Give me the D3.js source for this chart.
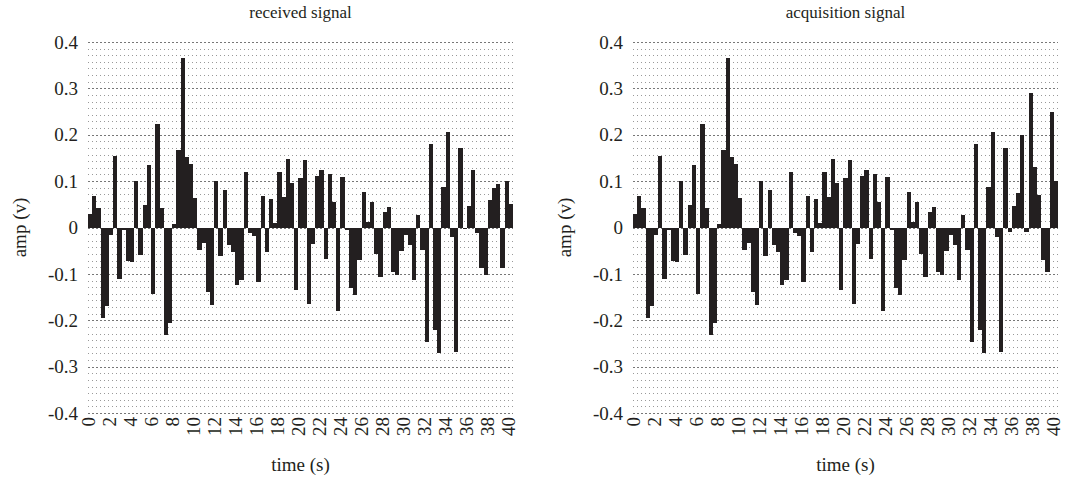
<!DOCTYPE html>
<html>
<head>
<meta charset="utf-8">
<script src="https://cdn.jsdelivr.net/npm/d3@7/dist/d3.min.js"></script>
<style>
  body { margin: 0; background: #fff; }
  svg text { font-family: "Liberation Serif", "DejaVu Serif", serif; fill: #231f20; }
</style>
</head>
<body>
<div id="chart"></div>
<script>
// sample step of the signal (s), 101 samples from 0 to 40
var step = 0.4;
var times = d3.range(101).map(function (i) { return +(i * step).toFixed(1); });

var received = [
  0.029, 0.069, 0.042, -0.195, -0.170, -0.016, 0.155, -0.110, -0.006, -0.073,
  -0.075, 0.100, -0.059, 0.049, 0.135, -0.143, 0.224, 0.043, -0.232, -0.205,
  0.007, 0.167, 0.366, 0.153, 0.138, 0.063, -0.049, -0.034, -0.139, -0.168,
  0.100, -0.062, 0.080, -0.037, -0.053, -0.123, -0.113, 0.120, -0.012, -0.019,
  -0.118, 0.067, -0.052, 0.062, 0.009, 0.120, 0.065, 0.148, 0.097, -0.135,
  0.106, 0.146, -0.165, -0.036, 0.110, 0.125, -0.068, 0.115, 0.054, -0.179,
  0.108, -0.006, -0.130, -0.145, -0.070, 0.077, 0.011, 0.056, -0.057, -0.106,
  0.034, 0.045, -0.096, -0.102, -0.050, -0.017, -0.037, -0.113, 0.026, -0.049,
  -0.247, 0.181, -0.222, -0.271, 0.087, 0.206, -0.020, -0.268, 0.172, -0.003,
  0.047, 0.123, -0.012, -0.087, -0.102, 0.060, 0.086, 0.093, -0.087, 0.100,
  0.051
];

var acquisition = [
  0.029, 0.069, 0.042, -0.195, -0.170, -0.016, 0.155, -0.110, -0.006, -0.073,
  -0.075, 0.100, -0.059, 0.049, 0.135, -0.143, 0.224, 0.043, -0.232, -0.205,
  0.007, 0.167, 0.366, 0.153, 0.138, 0.063, -0.049, -0.034, -0.139, -0.168,
  0.100, -0.062, 0.080, -0.037, -0.053, -0.123, -0.113, 0.120, -0.012, -0.019,
  -0.118, 0.067, -0.052, 0.062, 0.009, 0.120, 0.065, 0.148, 0.097, -0.135,
  0.106, 0.146, -0.165, -0.036, 0.110, 0.125, -0.068, 0.115, 0.054, -0.179,
  0.108, -0.006, -0.130, -0.145, -0.070, 0.077, 0.011, 0.056, -0.057, -0.106,
  0.034, 0.045, -0.096, -0.102, -0.050, -0.017, -0.037, -0.113, 0.026, -0.049,
  -0.247, 0.181, -0.222, -0.271, 0.087, 0.206, -0.020, -0.268, 0.172, -0.010,
  0.047, 0.075, 0.200, -0.010, 0.290, 0.130, 0.070, -0.070, -0.095, 0.250,
  0.100
];

var yTicks = [0.4, 0.3, 0.2, 0.1, 0, -0.1, -0.2, -0.3, -0.4];
var xTicks = d3.range(0, 41, 2);

var panels = [
  { title: "received signal", values: received, left: 88 },
  { title: "acquisition signal", values: acquisition, left: 633 }
];

var W = 1067, H = 481;
var plotW = 425, plotTop = 42, plotBottom = 413;

var svg = d3.select("#chart").append("svg")
    .attr("width", W)
    .attr("height", H);

panels.forEach(function (p) {
    var x = d3.scaleLinear().domain([0, 40 + step]).range([p.left, p.left + plotW]);
    var y = d3.scaleLinear().domain([-0.4, 0.4]).range([plotBottom, plotTop]);
    var g = svg.append("g");

    // dotted grid, 7 lines per 0.1
    var grid = d3.range(57).map(function (i) { return -0.4 + i * 0.8 / 56; });
    g.selectAll("line.grid")
        .data(grid)
        .enter()
        .append("line")
        .attr("x1", x(0))
        .attr("x2", x(40 + step))
        .attr("y1", function (d) { return Math.round(y(d)) + 0.5; })
        .attr("y2", function (d) { return Math.round(y(d)) + 0.5; })
        .attr("stroke", function (d, i) { return i % 7 == 0 ? "#777" : "#999"; })
        .attr("stroke-width", 1)
        .attr("stroke-dasharray", function (d, i) { return i % 7 == 0 ? "2,2" : "1,3"; });

    // bars
    g.selectAll("rect")
        .data(p.values)
        .enter()
        .append("rect")
        .attr("x", function (d, i) { return x(times[i]); })
        .attr("width", function (d, i) { return x(times[i] + step) - x(times[i]); })
        .attr("y", function (d) { return y(Math.max(d, 0)); })
        .attr("height", function (d) { return Math.abs(y(d) - y(0)); })
        .attr("fill", "#231f20")
        .attr("shape-rendering", "crispEdges");

    // y tick labels
    g.selectAll("text.ytick")
        .data(yTicks)
        .enter()
        .append("text")
        .attr("x", p.left - 10)
        .attr("y", function (d) { return y(d); })
        .attr("dy", "0.35em")
        .attr("text-anchor", "end")
        .style("font-size", "19px")
        .text(function (d) { return d; });

    // x tick labels, rotated
    g.selectAll("text.xtick")
        .data(xTicks)
        .enter()
        .append("text")
        .attr("transform", function (d) { return "translate(" + x(d) + "," + (plotBottom + 4) + ") rotate(-90)"; })
        .attr("dy", "0.35em")
        .attr("text-anchor", "end")
        .style("font-size", "19px")
        .text(function (d) { return d; });

    g.append("text")
        .attr("x", p.left + plotW / 2)
        .attr("y", 18)
        .attr("text-anchor", "middle")
        .style("font-size", "17px")
        .text(p.title);

    g.append("text")
        .attr("x", p.left + plotW / 2)
        .attr("y", 471)
        .attr("text-anchor", "middle")
        .style("font-size", "19px")
        .text("time (s)");

    g.append("text")
        .attr("transform", "translate(" + (p.left - 62) + "," + y(0) + ") rotate(-90)")
        .attr("text-anchor", "middle")
        .style("font-size", "19px")
        .text("amp (v)");
});
</script>
</body>
</html>
